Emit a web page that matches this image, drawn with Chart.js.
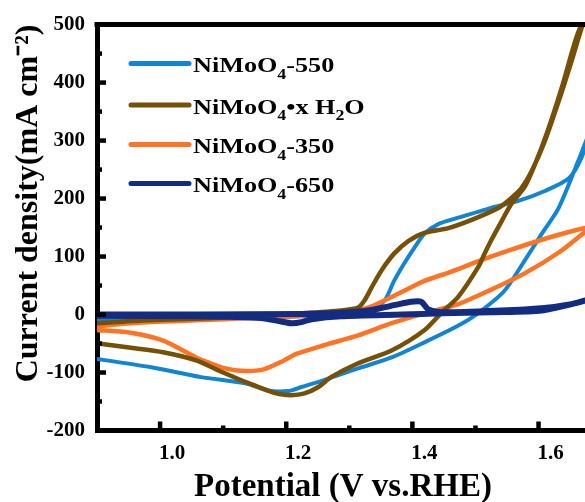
<!DOCTYPE html>
<html><head><meta charset="utf-8">
<script src="https://cdn.jsdelivr.net/npm/chart.js@4/dist/chart.umd.min.js"></script>
<style>
html,body{margin:0;padding:0;background:#fff;overflow:hidden;width:585px;height:502px}
#wrap{position:absolute;left:0;top:0;width:600px;height:502px}
</style></head>
<body><div id="wrap"><canvas id="c" width="600" height="502"></canvas></div>
<script>
// ---- data (potential V vs RHE, current density mA cm^-2), forward then reverse sweep ----
const seriesNames = ['NiMoO₄-550', 'NiMoO₄•x H₂O', 'NiMoO₄-350', 'NiMoO₄-650'];
const seriesColors = ['#1284d4', '#755006', '#ff7324', '#132b80'];

const s550V = [0.88,0.902,1.065,1.224,1.311,1.335,1.356,1.371,1.387,1.403,1.419,1.441,1.473,1.525,1.568,1.610,1.648,1.668,1.68,
               1.663,1.632,1.605,1.578,1.546,1.505,1.473,1.419,1.367,1.314,1.260,1.224,1.203,1.171,1.137,1.065,0.986,0.902,0.88];
const s550J = [-11,-10,-7,-3,3,7,24,58,88,115,139,156,167,184,196,213,235,270,312,
               265,184,139,93,41,3,-19,-48,-74,-93,-113,-125,-132,-131,-119,-108,-91,-77,-74];

const sHydV = [0.88,0.902,0.978,1.065,1.144,1.224,1.287,1.314,1.324,1.335,1.351,1.371,1.394,1.419,1.457,1.498,1.537,1.557,1.573,1.589,1.610,1.632,1.652,1.668,1.68,
               1.66,1.637,1.613,1.594,1.578,1.557,1.537,1.525,1.514,1.505,1.473,1.446,1.419,1.367,1.314,1.271,1.251,1.229,1.208,1.184,1.137,1.100,1.057,1.005,0.951,0.902,0.88];
const sHydJ = [-16,-15,-10,-7,-3,2,7,12,24,46,76,105,127,141,149,165,184,201,218,247,299,368,436,493,530,
               478,392,312,258,220,191,152,128,104,83,31,3,-27,-62,-84,-108,-125,-136,-139,-136,-117,-100,-79,-65,-57,-50,-47];

const s350V = [0.88,0.902,0.951,1.005,1.057,1.144,1.224,1.287,1.330,1.387,1.419,1.462,1.505,1.552,1.605,1.657,1.68,
               1.673,1.632,1.578,1.525,1.473,1.419,1.367,1.314,1.260,1.216,1.195,1.163,1.129,1.100,1.080,1.057,1.005,0.951,0.902,0.88];
const s350J = [-21,-20,-15,-12,-10,-6,-2,4,12,41,58,74,92,110,129,145,150,
               142,107,71,43,18,2,-15,-36,-53,-68,-80,-95,-97,-92,-84,-74,-45,-31,-27,-26];

const s650V = [0.88,0.902,1.065,1.224,1.287,1.335,1.375,1.398,1.414,1.425,1.446,1.541,1.605,1.652,1.68,
               1.66,1.605,1.525,1.446,1.383,1.287,1.240,1.224,1.208,1.192,1.160,1.065,0.902,0.88];
const s650J = [0,0,0,1,3,8,17,22,22,9,4,7,11,18,26,
               20,7,4,2,0,-3,-8,-13,-15,-12,-6,-3,-2,-2];

const xTickValues = [1.0, 1.2, 1.4, 1.6];
const xMinorValues = [1.1, 1.3, 1.5];
const yTickValues = [-200, -100, 0, 100, 200, 300, 400, 500];
const yMinorValues = [-150, -50, 50, 150, 250, 350, 450];
const xTitle = 'Potential (V vs.RHE)';
const yTitle = 'Current density(mA cm⁻²)';

// ---- build ----
const seriesV = [s550V, sHydV, s350V, s650V];
const seriesJ = [s550J, sHydJ, s350J, s650J];
const lineWidths = [4, 4.5, 4.5, 6];
const drawOrder = [3, 1, 2, 0];
const datasets = seriesNames.map((name, i) => ({
  label: name,
  data: seriesV[i].map((v, k) => ({x: v, y: seriesJ[i][k]})),
  showLine: true,
  borderColor: seriesColors[i],
  backgroundColor: seriesColors[i],
  borderWidth: lineWidths[i],
  pointRadius: 0,
  tension: 0.25,
  clip: 0,
  order: drawOrder[i]
}));

const FONT = '"Liberation Serif", "Times New Roman", serif';

function drawRich(ctx, text, x, y, size, sx) {
  ctx.save();
  ctx.translate(x, y);
  ctx.scale(sx, 1);
  let cx = 0;
  const subMap = {'₀':'0','₁':'1','₂':'2','₃':'3','₄':'4','₅':'5','₆':'6','₇':'7','₈':'8','₉':'9'};
  let buf = '';
  const flush = () => {
    if (!buf) return;
    ctx.font = 'bold ' + size + 'px ' + FONT;
    ctx.fillText(buf, cx, 0);
    cx += ctx.measureText(buf).width;
    buf = '';
  };
  for (const ch of text) {
    if (subMap[ch]) {
      flush();
      const ss = Math.round(size * 0.68);
      ctx.font = 'bold ' + ss + 'px ' + FONT;
      ctx.fillText(subMap[ch], cx, size * 0.3);
      cx += ctx.measureText(subMap[ch]).width;
    } else buf += ch;
  }
  flush();
  ctx.restore();
}

const legendPlugin = {
  id: 'cvLegend',
  afterDraw(chart) {
    const ctx = chart.ctx;
    const rows = [63.5, 105, 144.5, 183.5];
    ctx.save();
    ctx.textBaseline = 'alphabetic';
    ctx.textAlign = 'left';
    ctx.fillStyle = '#000';
    chart.data.datasets.forEach((ds, i) => {
      const y = rows[i];
      ctx.strokeStyle = ds.borderColor;
      ctx.lineWidth = 5;
      ctx.lineCap = 'round';
      ctx.beginPath(); ctx.moveTo(131, y); ctx.lineTo(189, y); ctx.stroke();
      ctx.fillStyle = '#000';
      drawRich(ctx, ds.label, 193, y + 8.5, 22, 1.19);
    });
    ctx.restore();
  }
};

const frame = {
  id: 'frame',
  afterDraw(chart) {
    const ctx = chart.ctx;
    const a = chart.chartArea;
    const xs = chart.scales.x, ys = chart.scales.y;
    ctx.save();
    ctx.strokeStyle = '#000';
    ctx.lineCap = 'butt';
    ctx.lineWidth = 5;
    ctx.beginPath(); ctx.moveTo(a.left - 2.5, a.top); ctx.lineTo(a.right + 10, a.top); ctx.stroke();
    ctx.lineWidth = 4.5;
    const yMaj = yTickValues.filter(v => v > -200 && v < 500);
    yMaj.forEach(v => { const p = ys.getPixelForValue(v); ctx.beginPath(); ctx.moveTo(a.left, p); ctx.lineTo(a.left + 9, p); ctx.stroke(); });
    yMinorValues.forEach(v => { const p = ys.getPixelForValue(v); ctx.beginPath(); ctx.moveTo(a.left, p); ctx.lineTo(a.left + 5, p); ctx.stroke(); });
    xTickValues.forEach(v => { const p = xs.getPixelForValue(v); ctx.beginPath(); ctx.moveTo(p, a.bottom); ctx.lineTo(p, a.bottom - 9); ctx.stroke(); });
    xMinorValues.forEach(v => { const p = xs.getPixelForValue(v); ctx.beginPath(); ctx.moveTo(p, a.bottom); ctx.lineTo(p, a.bottom - 5); ctx.stroke(); });
    ctx.restore();
  }
};

new Chart(document.getElementById('c'), {
  type: 'scatter',
  data: { datasets },
  options: {
    responsive: false,
    animation: false,
    devicePixelRatio: 1,
    layout: { padding: { top: 23, right: 11, left: 0, bottom: 0 } },
    plugins: { legend: { display: false }, tooltip: { enabled: false } },
    scales: {
      x: {
        type: 'linear', min: 0.9, max: 1.68,
        afterBuildTicks: s => { s.ticks = xTickValues.map(v => ({value: v})); },
        afterFit: s => { s.height = 71.5; },
        grid: { display: true, drawOnChartArea: false, drawTicks: false },
        border: { display: true, width: 5, color: '#000' },
        ticks: { color: '#000', padding: 10, labelOffset: 12, maxRotation: 0, autoSkip: false,
                 font: { family: FONT, weight: 'bold', size: 21 },
                 callback: v => Number(v).toFixed(1) },
        title: { display: true, text: xTitle, color: '#000',
                 font: { family: FONT, weight: 'bold', size: 33, lineHeight: 0.9 },
                 padding: { top: 0, bottom: 0 } }
      },
      y: {
        type: 'linear', min: -200, max: 500,
        afterBuildTicks: s => { s.ticks = yTickValues.map(v => ({value: v})); },
        afterFit: s => { s.width = 97; },
        grid: { display: true, drawOnChartArea: false, drawTicks: false },
        border: { display: true, width: 5, color: '#000' },
        ticks: { color: '#000', padding: 12, autoSkip: false,
                 font: { family: FONT, weight: 'bold', size: 21 },
                 callback: v => String(v) },
        title: { display: true, text: yTitle, color: '#000', align: 'end',
                 font: { family: FONT, weight: 'bold', size: 32 },
                 padding: { top: 10, bottom: 0 } }
      }
    }
  },
  plugins: [frame, legendPlugin]
});
</script>
</body></html>
